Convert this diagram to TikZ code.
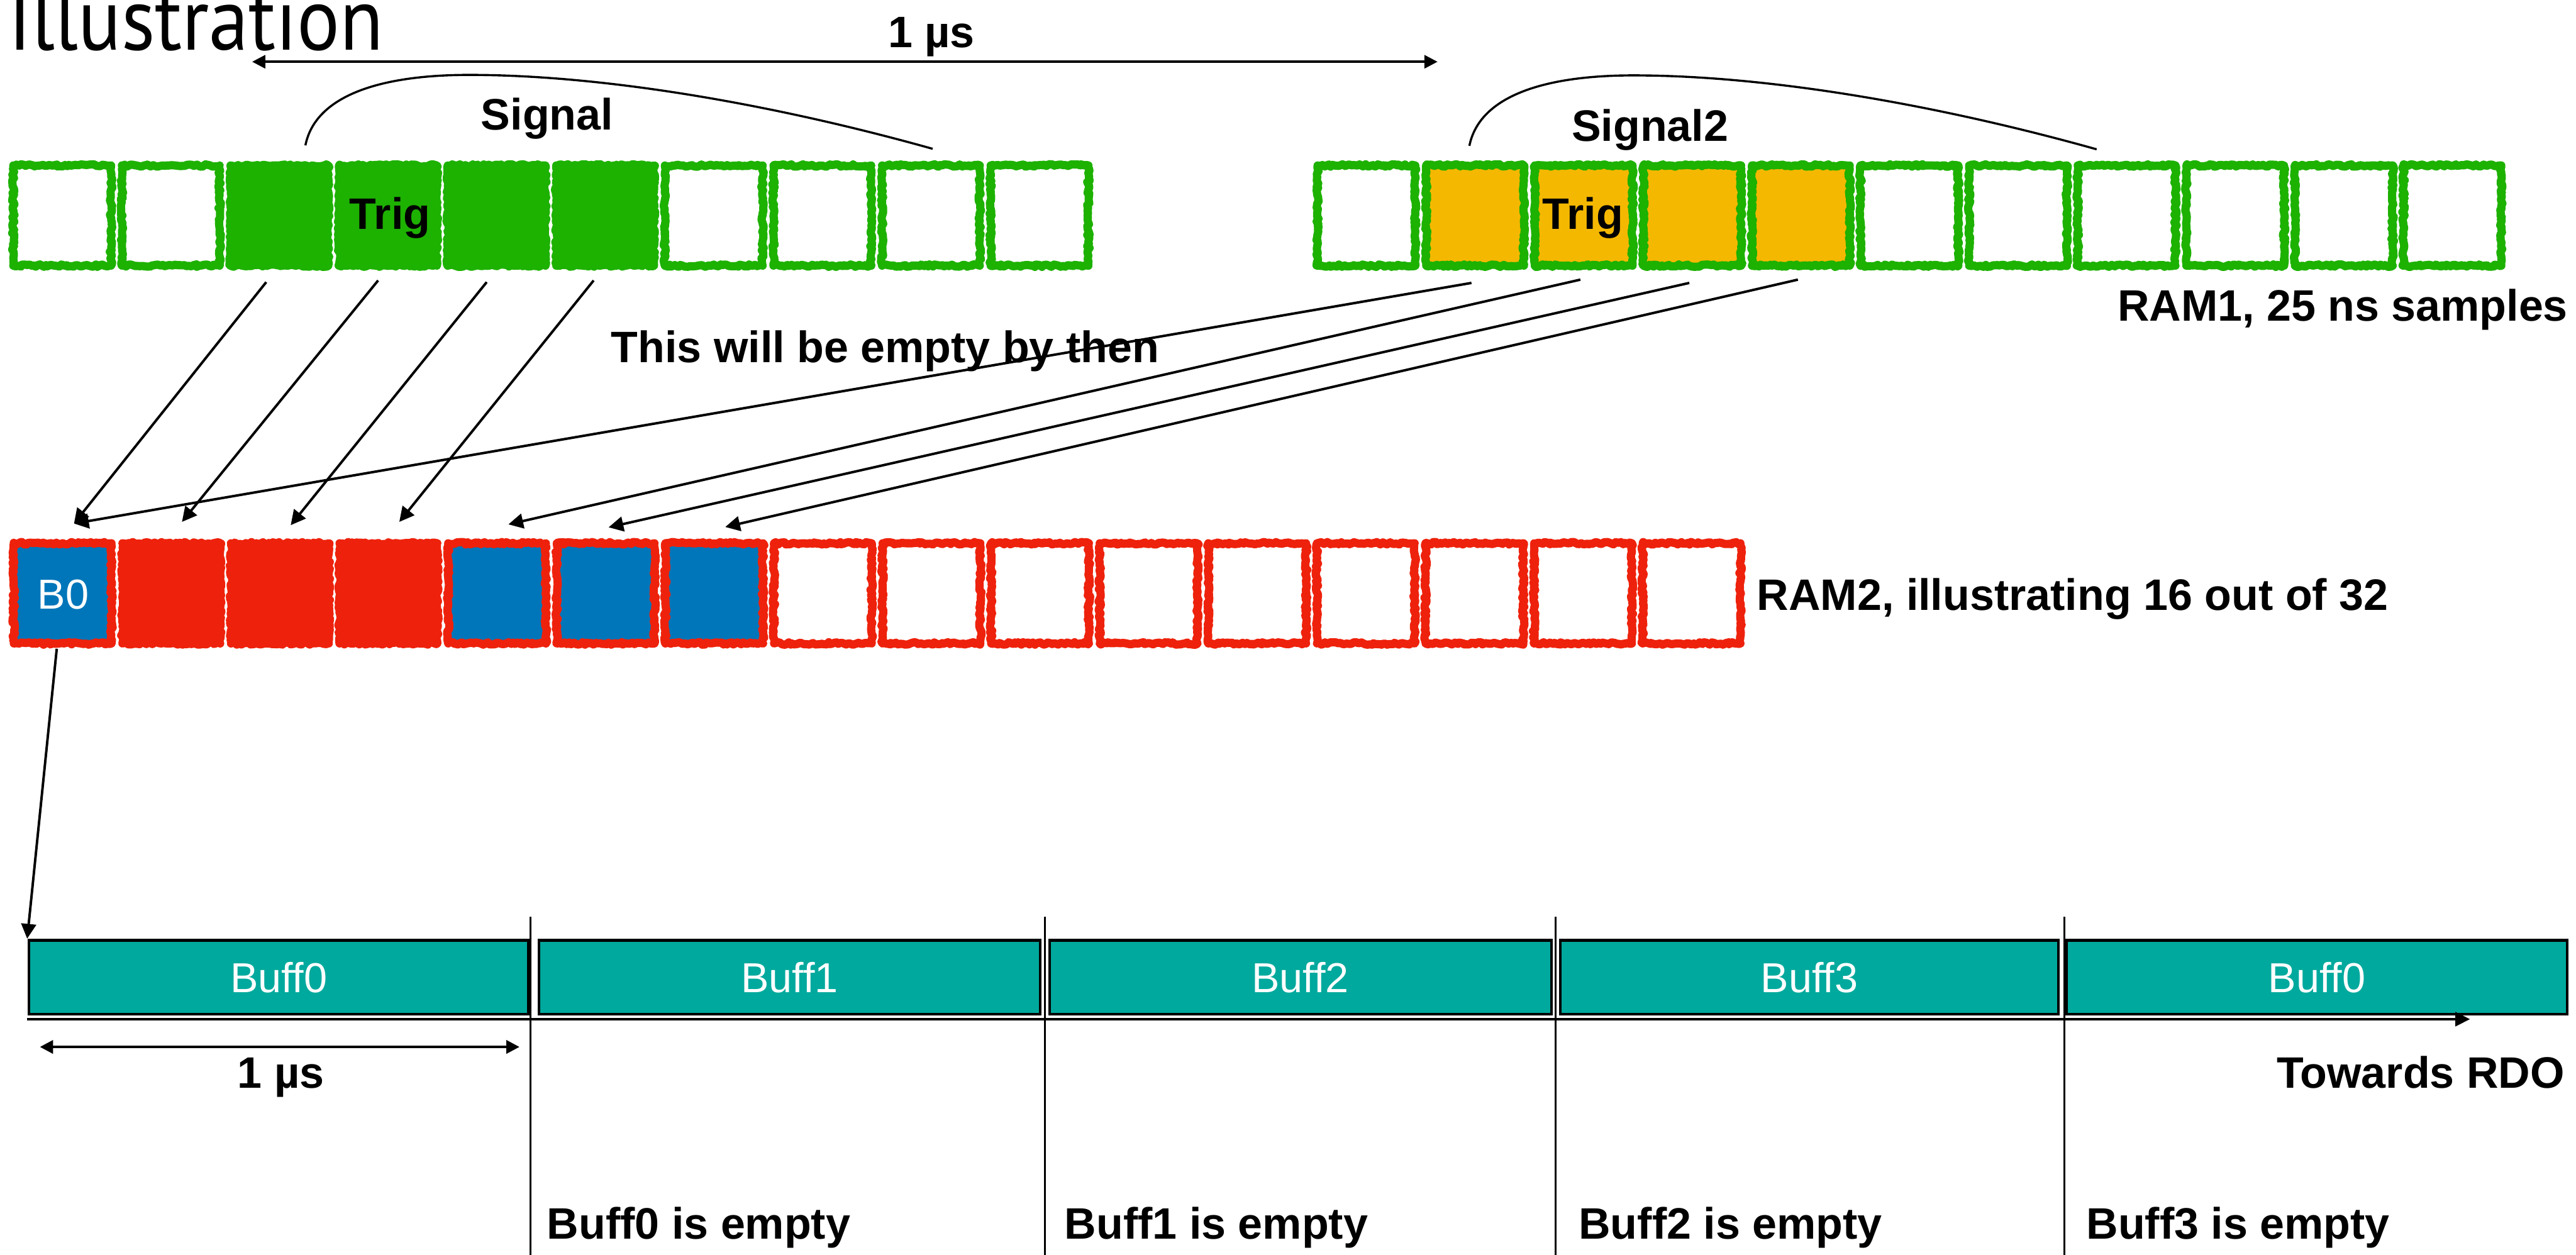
\documentclass[tikz,border=0pt]{standalone}
\usepackage{fontspec}
\setmainfont{Liberation Sans}
\newfontfamily\titlefont[FakeStretch=0.9]{PT Sans}
\usetikzlibrary{arrows.meta,decorations.pathmorphing,calc}

\definecolor{ramgreen}{RGB}{29,177,0}
\definecolor{sigorange}{RGB}{245,184,0}
\definecolor{ramred}{RGB}{238,34,12}
\definecolor{ramblue}{RGB}{0,118,186}
\definecolor{bufteal}{RGB}{0,169,157}

\tikzset{
  lbl/.style={font=\fontsize{26.8}{30}\selectfont\bfseries, inner sep=0pt, outer sep=0pt},
  wlbl/.style={font=\fontsize{25.5}{29}\selectfont, text=white, inner sep=0pt, outer sep=0pt},
  cell/.style={rectangle, minimum width=59.5pt, minimum height=61pt,
    inner sep=0pt, outer sep=0pt, line width=5pt, line join=round,
    decorate, decoration={random steps, segment length=1.4pt, amplitude=0.75pt}},
  gcell/.style={cell, draw=ramgreen, fill=white},
  gfull/.style={cell, draw=ramgreen, fill=ramgreen},
  ocell/.style={cell, draw=ramgreen, fill=sigorange},
  rcell/.style={cell, draw=ramred, fill=white},
  rfull/.style={cell, draw=ramred, fill=ramred},
  bcell/.style={cell, draw=ramred, fill=ramblue},
  buff/.style={rectangle, draw=black, line width=1.6pt, fill=bufteal,
    minimum height=45pt, inner sep=0pt, outer sep=0pt,
    font=\fontsize{25.5}{29}\selectfont, text=white},
  feed/.style={line width=1.5pt, -{Triangle[length=9pt,width=9pt]}},
  span/.style={line width=1.4pt, {Triangle[length=8pt,width=8pt]}-{Triangle[length=8pt,width=8pt]}},
  bracket/.style={line width=1.3pt},
  divline/.style={line width=1.2pt},
}

\begin{document}
\begin{tikzpicture}[x=1pt, y=-1pt]
\pgfmathsetseed{42}
\useasboundingbox (0,0) rectangle (1568,764);
\clip (0,0) rectangle (1568,764);

% title
\node[anchor=base west, inner sep=0pt] (title) at (5,30.5)
  {\titlefont\fontsize{54}{60}\selectfont Illustration};

% RAM1, first group of samples
\foreach \i in {1,2,7,8,9,10}
  \node[gcell] (g\i) at ({37.85+66.1*(\i-1)},131.25) {};
\foreach \i in {3,...,6}
  \node[gfull] (g\i) at ({37.85+66.1*(\i-1)},131.25) {};
\node[lbl] (trigA) at (237.4,132.5) {Trig};

% RAM1, second group of samples
\foreach \i in {1,6,7,8,9,10,11}
  \node[gcell] (h\i) at ({831.75+66.1*(\i-1)},131.25) {};
\foreach \i in {2,...,5}
  \node[ocell] (h\i) at ({831.75+66.1*(\i-1)},131.25) {};
\node[lbl] (trigB) at (963.5,132.5) {Trig};

% RAM2
\node[bcell] (r1) at (38.15,361.25) {};
\node[wlbl] (b0lbl) at (38.5,362) {B0};
\foreach \i in {2,3,4}
  \node[rfull] (r\i) at ({38.15+66.1*(\i-1)},361.25) {};
\foreach \i in {5,6,7}
  \node[bcell] (r\i) at ({38.15+66.1*(\i-1)},361.25) {};
\foreach \i in {8,...,16}
  \node[rcell] (r\i) at ({38.15+66.1*(\i-1)},361.25) {};

% labels
\node[lbl, anchor=base] (sig1) at (333,78.9) {Signal};
\node[lbl, anchor=base] (sig2) at (1004.4,85.8) {Signal2};
\node[lbl, anchor=base] (usTop) at (567,29) {1 µs};
\node[lbl, anchor=base east] (ram1) at (1563,195.5) {RAM1, 25 ns samples};
\node[lbl, anchor=base west] (empty) at (372,220.5) {This will be empty by then};
\node[lbl, anchor=base west] (ram2) at (1069.5,371.4) {RAM2, illustrating 16 out of 32};

% 1 us span over the first signal
\coordinate (spanL) at (153.5,37.6);
\coordinate (spanR) at (875,37.6);
\draw[span] (spanL) -- (spanR);

% signal outlines
\draw[bracket] (185.9,88.5) .. controls (191.9,58.5) and (230.6,45.6) .. (285.6,45.6)
  .. controls (365.6,45.6) and (467.7,62.6) .. (567.7,90.6);
\begin{scope}[xshift=708.5pt, yshift=-0.3pt]
\draw[bracket] (185.9,88.5) .. controls (191.9,58.5) and (230.6,45.6) .. (285.6,45.6)
  .. controls (365.6,45.6) and (467.7,62.6) .. (567.7,90.6);
\end{scope}

% samples copied from RAM1 to RAM2
\draw[feed] ($(g3.south)+(-8,10)$) -- ($(r1.north)+(6.9,-12)$);
\draw[feed] ($(g4.south)+(-6,9)$)  -- ($(r2.north)+(6.5,-13)$);
\draw[feed] ($(g5.south)+(-6,10)$) -- ($(r3.north)+(6.6,-11)$);
\draw[feed] ($(g6.south)+(-7,9)$)  -- ($(r4.north)+(6.6,-13)$);
\draw[feed] ($(h2.south)+(-2.2,10.5)$) -- ($(r1.north)+(6.9,-12)$);
\draw[feed] ($(h3.south)+(-2,8.5)$)  -- ($(r5.north)+(6.9,-11.5)$);
\draw[feed] ($(h4.south)+(-1.8,10.5)$) -- ($(r6.north)+(1.8,-9.7)$);
\draw[feed] ($(h5.south)+(-1.8,8.5)$)  -- ($(r7.north)+(6.7,-9.9)$);

% output buffers
\node[buff, minimum width=303.8pt] (b0) at (169.65,595) {Buff0};
\node[buff, minimum width=305.3pt] (b1) at (480.6,595) {Buff1};
\node[buff, minimum width=305.5pt] (b2) at (791.5,595) {Buff2};
\node[buff, minimum width=303.1pt] (b3) at (1101.3,595) {Buff3};
\node[buff, minimum width=304.5pt] (b4) at (1410.3,595) {Buff0};

% B0 goes to the first buffer
\draw[feed] ($(r1.south)+(-3.6,3.2)$) -- ($(b0.north west)+(-1.2,-1)$);

% stream towards RDO
\coordinate (rdo) at (1503.5,620.5);
\draw[line width=1.6pt, -{Triangle[length=9pt,width=8.5pt]}] ($(b0.south west)+(-1.2,3)$) -- (rdo);

% buffer boundaries
\foreach \x in {323,636,947,1256.5}
  \draw[divline] (\x,558) -- (\x,764);

% 1 us span of one buffer
\coordinate (bspanL) at (24.3,637.4);
\coordinate (bspanR) at (316.2,637.4);
\draw[span, line width=1.6pt] (bspanL) -- (bspanR);
\node[lbl, anchor=base] (usBot) at (171,662.3) {1 µs};
\node[lbl, anchor=base east] (rdoLbl) at (1561,662.3) {Towards RDO};

% buffer status
\node[lbl, anchor=base west] (e0) at (333,754.5) {Buff0 is empty};
\node[lbl, anchor=base west] (e1) at (648,754.5) {Buff1 is empty};
\node[lbl, anchor=base west] (e2) at (961,754.5) {Buff2 is empty};
\node[lbl, anchor=base west] (e3) at (1270,754.5) {Buff3 is empty};
\end{tikzpicture}
\end{document}
